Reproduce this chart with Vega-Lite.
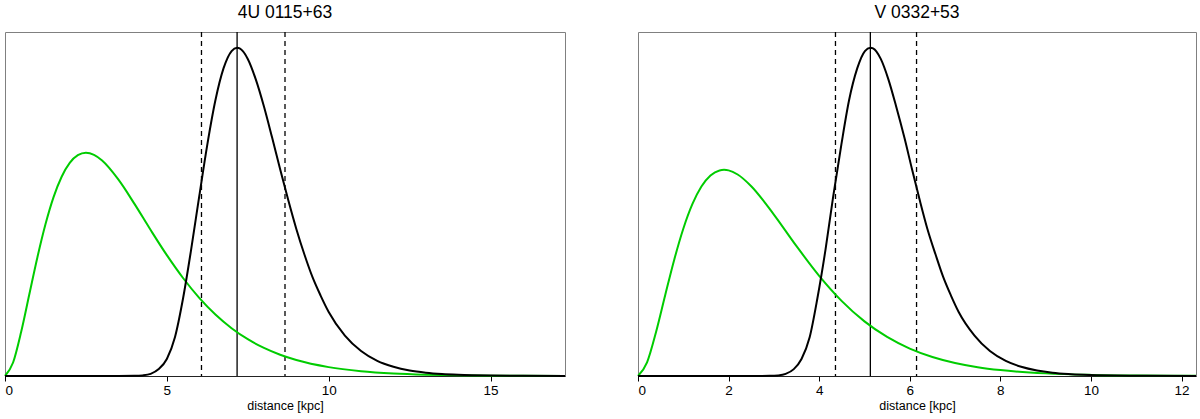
{
  "$schema": "https://vega.github.io/schema/vega-lite/v6.json",
  "padding": {"left": 0, "top": 3, "right": 2, "bottom": 0},
  "spacing": 63,
  "config": {
    "font": "Liberation Sans",
    "view": {"stroke": "#808080", "strokeWidth": 1},
    "axis": {"grid": false},
    "title": {"fontSize": 17.5, "fontWeight": "normal", "color": "#000", "offset": 10, "anchor": "middle"}
  },
  "datasets": {
    "leftCurves": [
      {"series": "prior", "x": 0, "y": 0}, {"series": "prior", "x": 0.25, "y": 0.0411}, {"series": "prior", "x": 0.5, "y": 0.1347}, {"series": "prior", "x": 0.75, "y": 0.2482}, {"series": "prior", "x": 1, "y": 0.3612}, {"series": "prior", "x": 1.25, "y": 0.4621}, {"series": "prior", "x": 1.5, "y": 0.5448}, {"series": "prior", "x": 1.75, "y": 0.6071}, {"series": "prior", "x": 2, "y": 0.6492}, {"series": "prior", "x": 2.25, "y": 0.6727}, {"series": "prior", "x": 2.5, "y": 0.68}, {"series": "prior", "x": 2.75, "y": 0.6736}, {"series": "prior", "x": 3, "y": 0.6564}, {"series": "prior", "x": 3.5, "y": 0.5988}, {"series": "prior", "x": 4, "y": 0.5243}, {"series": "prior", "x": 4.5, "y": 0.4447}, {"series": "prior", "x": 5, "y": 0.3681}, {"series": "prior", "x": 5.5, "y": 0.2986}, {"series": "prior", "x": 6, "y": 0.2382}, {"series": "prior", "x": 6.5, "y": 0.1874}, {"series": "prior", "x": 7, "y": 0.1457}, {"series": "prior", "x": 7.5, "y": 0.1121}, {"series": "prior", "x": 8, "y": 0.0855}, {"series": "prior", "x": 8.5, "y": 0.0647}, {"series": "prior", "x": 9, "y": 0.0486}, {"series": "prior", "x": 10, "y": 0.027}, {"series": "prior", "x": 11, "y": 0.0147}, {"series": "prior", "x": 12, "y": 0.0078}, {"series": "prior", "x": 13, "y": 0.0041}, {"series": "prior", "x": 14, "y": 0.0022}, {"series": "prior", "x": 15, "y": 0.0011}, {"series": "prior", "x": 16, "y": 0.0006}, {"series": "prior", "x": 17.3, "y": 0.0002},
      {"series": "posterior", "x": 0, "y": 0}, {"series": "posterior", "x": 3.5, "y": 0}, {"series": "posterior", "x": 4.0, "y": 0.0004}, {"series": "posterior", "x": 4.25, "y": 0.0018}, {"series": "posterior", "x": 4.5, "y": 0.0065}, {"series": "posterior", "x": 4.75, "y": 0.021}, {"series": "posterior", "x": 5.0, "y": 0.052}, {"series": "posterior", "x": 5.25, "y": 0.118}, {"series": "posterior", "x": 5.5, "y": 0.236}, {"series": "posterior", "x": 5.75, "y": 0.385}, {"series": "posterior", "x": 6.0, "y": 0.547}, {"series": "posterior", "x": 6.25, "y": 0.705}, {"series": "posterior", "x": 6.5, "y": 0.84}, {"series": "posterior", "x": 6.75, "y": 0.937}, {"series": "posterior", "x": 7.0, "y": 0.99}, {"series": "posterior", "x": 7.17, "y": 1.0}, {"series": "posterior", "x": 7.25, "y": 0.998}, {"series": "posterior", "x": 7.5, "y": 0.966}, {"series": "posterior", "x": 7.75, "y": 0.903}, {"series": "posterior", "x": 8.0, "y": 0.821}, {"series": "posterior", "x": 8.25, "y": 0.727}, {"series": "posterior", "x": 8.5, "y": 0.63}, {"series": "posterior", "x": 8.75, "y": 0.536}, {"series": "posterior", "x": 9.0, "y": 0.448}, {"series": "posterior", "x": 9.25, "y": 0.37}, {"series": "posterior", "x": 9.5, "y": 0.301}, {"series": "posterior", "x": 9.75, "y": 0.245}, {"series": "posterior", "x": 10.0, "y": 0.195}, {"series": "posterior", "x": 10.5, "y": 0.123}, {"series": "posterior", "x": 11.0, "y": 0.076}, {"series": "posterior", "x": 11.5, "y": 0.046}, {"series": "posterior", "x": 12.0, "y": 0.028}, {"series": "posterior", "x": 12.5, "y": 0.0167}, {"series": "posterior", "x": 13.0, "y": 0.0101}, {"series": "posterior", "x": 13.5, "y": 0.0061}, {"series": "posterior", "x": 14.0, "y": 0.0037}, {"series": "posterior", "x": 15.0, "y": 0.0013}, {"series": "posterior", "x": 16.0, "y": 0.0005}, {"series": "posterior", "x": 17.3, "y": 0.0001}
    ],
    "rightCurves": [
      {"series": "prior", "x": 0, "y": 0}, {"series": "prior", "x": 0.2, "y": 0.0417}, {"series": "prior", "x": 0.4, "y": 0.135}, {"series": "prior", "x": 0.6, "y": 0.2461}, {"series": "prior", "x": 0.8, "y": 0.3544}, {"series": "prior", "x": 1.0, "y": 0.4486}, {"series": "prior", "x": 1.2, "y": 0.5233}, {"series": "prior", "x": 1.4, "y": 0.5771}, {"series": "prior", "x": 1.6, "y": 0.6107}, {"series": "prior", "x": 1.8, "y": 0.6263}, {"series": "prior", "x": 1.9, "y": 0.628}, {"series": "prior", "x": 2.0, "y": 0.6264}, {"series": "prior", "x": 2.2, "y": 0.6139}, {"series": "prior", "x": 2.5, "y": 0.5782}, {"series": "prior", "x": 3.0, "y": 0.4918}, {"series": "prior", "x": 3.5, "y": 0.3955}, {"series": "prior", "x": 4.0, "y": 0.3052}, {"series": "prior", "x": 4.5, "y": 0.2282}, {"series": "prior", "x": 5.0, "y": 0.1664}, {"series": "prior", "x": 5.5, "y": 0.119}, {"series": "prior", "x": 6.0, "y": 0.0836}, {"series": "prior", "x": 6.5, "y": 0.058}, {"series": "prior", "x": 7.0, "y": 0.0397}, {"series": "prior", "x": 7.5, "y": 0.0269}, {"series": "prior", "x": 8.0, "y": 0.0181}, {"series": "prior", "x": 9.0, "y": 0.008}, {"series": "prior", "x": 10.0, "y": 0.0034}, {"series": "prior", "x": 11.0, "y": 0.0015}, {"series": "prior", "x": 12.32, "y": 0.0004},
      {"series": "posterior", "x": 0, "y": 0}, {"series": "posterior", "x": 2.5, "y": 0}, {"series": "posterior", "x": 2.91, "y": 0.0004}, {"series": "posterior", "x": 3.09, "y": 0.0018}, {"series": "posterior", "x": 3.26, "y": 0.0065}, {"series": "posterior", "x": 3.44, "y": 0.021}, {"series": "posterior", "x": 3.61, "y": 0.052}, {"series": "posterior", "x": 3.79, "y": 0.118}, {"series": "posterior", "x": 3.96, "y": 0.236}, {"series": "posterior", "x": 4.14, "y": 0.385}, {"series": "posterior", "x": 4.31, "y": 0.547}, {"series": "posterior", "x": 4.49, "y": 0.705}, {"series": "posterior", "x": 4.66, "y": 0.84}, {"series": "posterior", "x": 4.84, "y": 0.937}, {"series": "posterior", "x": 5.01, "y": 0.99}, {"series": "posterior", "x": 5.13, "y": 1.0}, {"series": "posterior", "x": 5.19, "y": 0.998}, {"series": "posterior", "x": 5.36, "y": 0.966}, {"series": "posterior", "x": 5.53, "y": 0.903}, {"series": "posterior", "x": 5.7, "y": 0.821}, {"series": "posterior", "x": 5.88, "y": 0.727}, {"series": "posterior", "x": 6.05, "y": 0.63}, {"series": "posterior", "x": 6.22, "y": 0.536}, {"series": "posterior", "x": 6.39, "y": 0.448}, {"series": "posterior", "x": 6.57, "y": 0.37}, {"series": "posterior", "x": 6.74, "y": 0.301}, {"series": "posterior", "x": 6.91, "y": 0.245}, {"series": "posterior", "x": 7.08, "y": 0.195}, {"series": "posterior", "x": 7.43, "y": 0.123}, {"series": "posterior", "x": 7.77, "y": 0.076}, {"series": "posterior", "x": 8.12, "y": 0.046}, {"series": "posterior", "x": 8.46, "y": 0.028}, {"series": "posterior", "x": 8.81, "y": 0.0167}, {"series": "posterior", "x": 9.15, "y": 0.0101}, {"series": "posterior", "x": 9.5, "y": 0.0061}, {"series": "posterior", "x": 9.84, "y": 0.0037}, {"series": "posterior", "x": 10.53, "y": 0.0013}, {"series": "posterior", "x": 11.22, "y": 0.0005}, {"series": "posterior", "x": 12.32, "y": 0.0001}
    ],
    "leftLines": [
      {"kind": "interval", "x": 6.07}, {"kind": "mode", "x": 7.17}, {"kind": "interval", "x": 8.65}
    ],
    "rightLines": [
      {"kind": "interval", "x": 4.36}, {"kind": "mode", "x": 5.13}, {"kind": "interval", "x": 6.15}
    ]
  },
  "hconcat": [
    {
      "title": "4U 0115+63",
      "width": 560,
      "height": 344,
      "layer": [
        {
          "data": {"name": "leftLines"},
          "mark": {"type": "rule", "color": "#000", "strokeWidth": 1.3},
          "encoding": {
            "x": {"field": "x", "type": "quantitative", "scale": {"domain": [0, 17.3], "nice": false, "zero": false}},
            "strokeDash": {"field": "kind", "type": "nominal", "scale": {"domain": ["mode", "interval"], "range": [[1, 0], [5, 4]]}, "legend": null}
          }
        },
        {
          "data": {"name": "leftCurves"},
          "mark": {"type": "line", "interpolate": "monotone", "strokeWidth": 2},
          "encoding": {
            "x": {"field": "x", "type": "quantitative", "scale": {"domain": [0, 17.3], "nice": false, "zero": false},
                  "axis": {"values": [0, 5, 10, 15], "title": "distance [kpc]", "labelFontSize": 13.5, "titleFontSize": 12.5, "titleFontWeight": "normal", "labelColor": "#000", "titleColor": "#000", "tickColor": "#000", "domainColor": "#222", "tickSize": 5, "labelPadding": 2.5, "titlePadding": 2.5}},
            "y": {"field": "y", "type": "quantitative", "scale": {"domain": [0, 1.048], "nice": false}, "axis": null},
            "color": {"field": "series", "type": "nominal", "scale": {"domain": ["prior", "posterior"], "range": ["#00CC00", "#000000"]}, "legend": null},
            "detail": {"field": "series"}
          }
        }
      ]
    },
    {
      "title": "V 0332+53",
      "width": 558,
      "height": 344,
      "layer": [
        {
          "data": {"name": "rightLines"},
          "mark": {"type": "rule", "color": "#000", "strokeWidth": 1.3},
          "encoding": {
            "x": {"field": "x", "type": "quantitative", "scale": {"domain": [0, 12.32], "nice": false, "zero": false}},
            "strokeDash": {"field": "kind", "type": "nominal", "scale": {"domain": ["mode", "interval"], "range": [[1, 0], [5, 4]]}, "legend": null}
          }
        },
        {
          "data": {"name": "rightCurves"},
          "mark": {"type": "line", "interpolate": "monotone", "strokeWidth": 2},
          "encoding": {
            "x": {"field": "x", "type": "quantitative", "scale": {"domain": [0, 12.32], "nice": false, "zero": false},
                  "axis": {"values": [0, 2, 4, 6, 8, 10, 12], "title": "distance [kpc]", "labelFontSize": 13.5, "titleFontSize": 12.5, "titleFontWeight": "normal", "labelColor": "#000", "titleColor": "#000", "tickColor": "#000", "domainColor": "#222", "tickSize": 5, "labelPadding": 2.5, "titlePadding": 2.5}},
            "y": {"field": "y", "type": "quantitative", "scale": {"domain": [0, 1.048], "nice": false}, "axis": null},
            "color": {"field": "series", "type": "nominal", "scale": {"domain": ["prior", "posterior"], "range": ["#00CC00", "#000000"]}, "legend": null},
            "detail": {"field": "series"}
          }
        }
      ]
    }
  ]
}
